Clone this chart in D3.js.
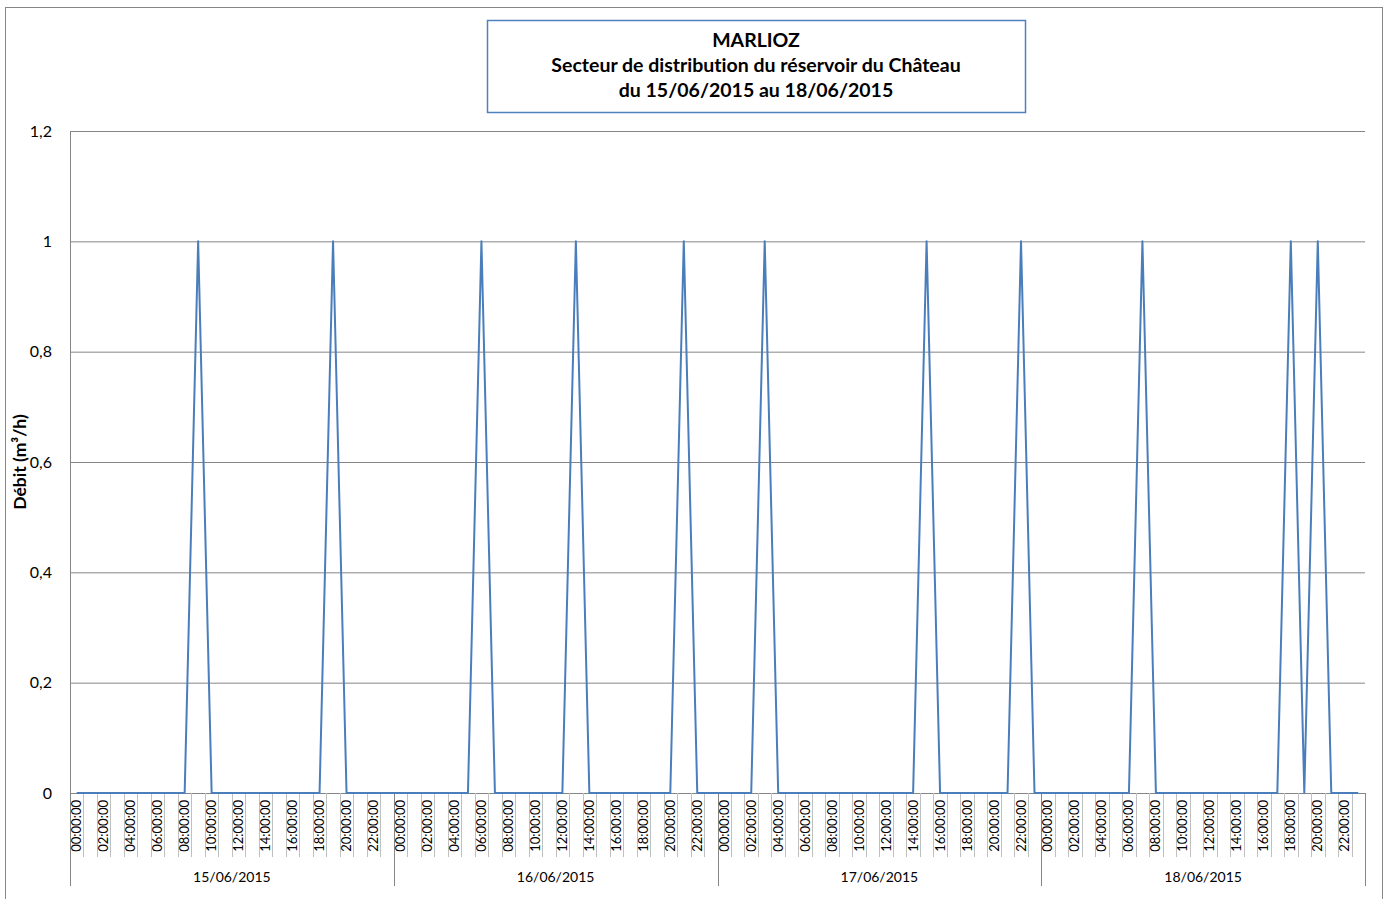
<!DOCTYPE html>
<html>
<head>
<meta charset="utf-8">
<script src="https://cdn.jsdelivr.net/npm/d3@7"></script>
<style>
  html, body { margin: 0; padding: 0; background: #fff; }
  svg { display: block; font-family: Lato, "Noto Sans", sans-serif; font-variant-ligatures: none; }
</style>
</head>
<body>
<svg id="chart" width="1389" height="899"></svg>
<script>
// Débit horaire du secteur du réservoir du Château, 15 au 18 juin 2015
const days = ["15/06/2015", "16/06/2015", "17/06/2015", "18/06/2015"];
const hours = ["00:00:00","01:00:00","02:00:00","03:00:00","04:00:00","05:00:00",
               "06:00:00","07:00:00","08:00:00","09:00:00","10:00:00","11:00:00",
               "12:00:00","13:00:00","14:00:00","15:00:00","16:00:00","17:00:00",
               "18:00:00","19:00:00","20:00:00","21:00:00","22:00:00","23:00:00"];
const debit15 = [0,0,0,0,0,0,0,0,0,1,0,0,0,0,0,0,0,0,0,1,0,0,0,0];
const debit16 = [0,0,0,0,0,0,1,0,0,0,0,0,0,1,0,0,0,0,0,0,0,1,0,0];
const debit17 = [0,0,0,1,0,0,0,0,0,0,0,0,0,0,0,1,0,0,0,0,0,0,1,0];
const debit18 = [0,0,0,0,0,0,0,1,0,0,0,0,0,0,0,0,0,0,1,0,1,0,0,0];
const yTicks = [0, 0.2, 0.4, 0.6, 0.8, 1, 1.2];
const titleLines = ["MARLIOZ", "Secteur de distribution du réservoir du Château", "du 15/06/2015 au 18/06/2015"];
const yTitle = "Débit (m³/h)";

const series = [debit15, debit16, debit17, debit18];
const points = [];
days.forEach((d, i) => hours.forEach((h, j) => points.push({ key: d + " " + h, day: d, hour: h, j, v: series[i][j] })));

const svg = d3.select("#chart");
const plot = { left: 70, right: 1365, top: 131, bottom: 793 };

// outer chart frame
svg.append("rect").attr("x", 5.5).attr("y", 7.5).attr("width", 1377).attr("height", 892)
  .attr("fill", "#fff").attr("stroke", "#868686").attr("stroke-width", 1);

const x = d3.scaleBand().domain(points.map(p => p.key)).range([plot.left, plot.right]).paddingInner(0).paddingOuter(0);
const y = d3.scaleLinear().domain([0, 1.2]).range([plot.bottom, plot.top]);
const dayScale = d3.scaleBand().domain(days).range([plot.left, plot.right]);

const fmt = v => String(+v.toFixed(1)).replace(".", ",");

// horizontal gridlines and y labels
const yAxis = d3.axisLeft(y).tickValues(yTicks).tickFormat(fmt)
  .tickSize(-(plot.right - plot.left)).tickPadding(18);
const gy = svg.append("g").attr("transform", `translate(${plot.left},0)`).call(yAxis);
gy.select(".domain").attr("stroke", "#868686").attr("d", `M0.5,${plot.top}V${plot.bottom}`);
gy.selectAll(".tick line").attr("stroke", "#868686").attr("stroke-width", 1);
gy.selectAll(".tick text").attr("fill", "#000").style("font-size", "16px")
  .style("font-family", "Lato, 'Noto Sans', sans-serif");

// x axis line
svg.append("line").attr("x1", plot.left).attr("x2", plot.right)
  .attr("y1", plot.bottom + 0.5).attr("y2", plot.bottom + 0.5).attr("stroke", "#868686");

// category boundary ticks
const boundaries = points.map(p => x(p.key)).concat([plot.right]);
svg.append("g").selectAll("line").data(boundaries.filter((b, i) => i % 24 !== 0)).join("line")
  .attr("x1", d => Math.round(d) + 0.5).attr("x2", d => Math.round(d) + 0.5)
  .attr("y1", plot.bottom).attr("y2", 857).attr("stroke", "#c0c0c0");

// day separators
svg.append("g").selectAll("line").data(days.map(d => dayScale(d)).concat([plot.right])).join("line")
  .attr("x1", d => Math.round(d) + 0.5).attr("x2", d => Math.round(d) + 0.5)
  .attr("y1", plot.bottom).attr("y2", 886).attr("stroke", "#868686");

// hour labels every two hours
svg.append("g").selectAll("text").data(points.filter(p => p.j % 2 === 0)).join("text")
  .attr("transform", p => `translate(${x(p.key) + x.bandwidth() / 2 + 4.5},${800}) rotate(-90)`)
  .attr("text-anchor", "end")
  .style("font-size", "13px").attr("fill", "#000")
  .text(p => p.hour);

// day labels
svg.append("g").selectAll("text").data(days).join("text")
  .attr("x", d => dayScale(d) + dayScale.bandwidth() / 2).attr("y", 882)
  .attr("text-anchor", "middle").style("font-size", "14px").attr("fill", "#000")
  .text(d => d);

// flow line
const line = d3.line().x(p => x(p.key) + x.bandwidth() / 2).y(p => y(p.v));
svg.append("path").datum(points).attr("d", line)
  .attr("fill", "none").attr("stroke", "#4a7ebb").attr("stroke-width", 2)
  .attr("stroke-linejoin", "round");

// y axis title
svg.append("text").attr("transform", "translate(26,462) rotate(-90)")
  .attr("text-anchor", "middle").style("font-size", "17.5px").style("font-weight", "bold")
  .attr("fill", "#000").text(yTitle);

// title box
svg.append("rect").attr("x", 487.5).attr("y", 20.5).attr("width", 538).attr("height", 92)
  .attr("fill", "#fff").attr("stroke", "#4f81bd").attr("stroke-width", 1.5);
svg.append("g").selectAll("text").data(titleLines).join("text")
  .attr("x", 756).attr("y", (d, i) => 47 + i * 25)
  .attr("text-anchor", "middle").style("font-size", "19.5px").style("font-weight", "bold")
  .attr("fill", "#000").text(d => d);
</script>
</body>
</html>
